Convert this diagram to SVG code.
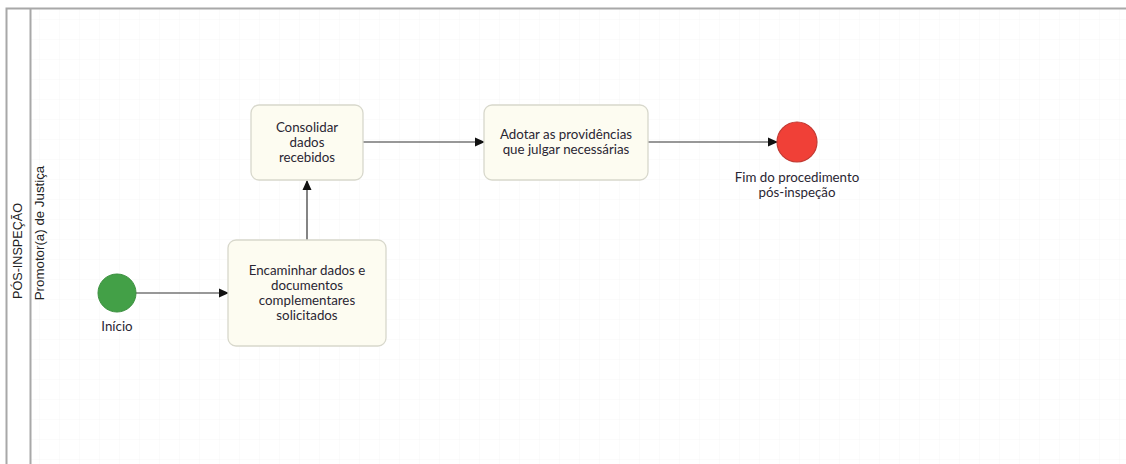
<svg xmlns="http://www.w3.org/2000/svg" width="1126" height="464" viewBox="0 0 1126 464">
<defs>
<pattern id="grid" width="20" height="20" patternUnits="userSpaceOnUse"><path d="M20 0V20M0 20H20" fill="none" stroke="#f6f6f6" stroke-width="1"/></pattern>
<marker id="arr" markerWidth="10" markerHeight="10" refX="9" refY="5" orient="auto" markerUnits="userSpaceOnUse"><path d="M0,0.5 L10,5 L0,9.5 Z" fill="#111"/></marker>
</defs>
<style>
.task{fill:#fdfcf1;stroke:#d8d8cc;stroke-width:1.3}
.t{font-family:Lato,"Open Sans",sans-serif;font-size:13.3px;fill:#2a2633;text-anchor:middle}
.lane{font-family:"Liberation Sans",Arial,sans-serif;fill:#222;text-anchor:middle}
.edge{stroke:#333;stroke-width:1.2;fill:none;marker-end:url(#arr)}
</style>
<rect width="1126" height="464" fill="#fff"/>
<rect x="31" y="9" width="1095" height="455" fill="url(#grid)"/>
<g id="pool">
<path d="M6.5,464 V8.5 H1126" fill="none" stroke="#a8a8a8" stroke-width="2"/>
<line x1="30.5" y1="9" x2="30.5" y2="464" stroke="#a8a8a8" stroke-width="2"/>
<text class="lane" font-size="12.6" transform="translate(22,251) rotate(-90)">PÓS-INSPEÇÃO</text>
<text class="lane" font-size="13.3" transform="translate(44,233) rotate(-90)">Promotor(a) de Justiça</text>
</g>
<g id="connectors">
<line class="edge" x1="136" y1="293" x2="228" y2="293"/>
<line class="edge" x1="307" y1="240" x2="307" y2="181"/>
<line class="edge" x1="363" y1="142" x2="484" y2="142"/>
<line class="edge" x1="648" y1="142" x2="777" y2="142"/>
</g>
<g id="start">
<circle cx="117" cy="293" r="19" fill="#43a047" stroke="#3a8f3e" stroke-width="1"/>
<text class="t" x="117" y="331">Início</text>
</g>
<g id="task1">
<rect class="task" x="228" y="240" width="158" height="106" rx="8"/>
<text class="t" x="307" y="275">Encaminhar dados e</text>
<text class="t" x="307" y="290">documentos</text>
<text class="t" x="307" y="305">complementares</text>
<text class="t" x="307" y="320">solicitados</text>
</g>
<g id="task2">
<rect class="task" x="251" y="105" width="112" height="75" rx="8"/>
<text class="t" x="307" y="132">Consolidar</text>
<text class="t" x="307" y="147">dados</text>
<text class="t" x="307" y="162">recebidos</text>
</g>
<g id="task3">
<rect class="task" x="484" y="105" width="164" height="75" rx="8"/>
<text class="t" x="566" y="139">Adotar as providências</text>
<text class="t" x="566" y="154">que julgar necessárias</text>
</g>
<g id="end">
<circle cx="797" cy="142" r="20" fill="#f04037" stroke="#c23a33" stroke-width="1.2"/>
<text class="t" x="797" y="182">Fim do procedimento</text>
<text class="t" x="797" y="197">pós-inspeção</text>
</g>
</svg>
